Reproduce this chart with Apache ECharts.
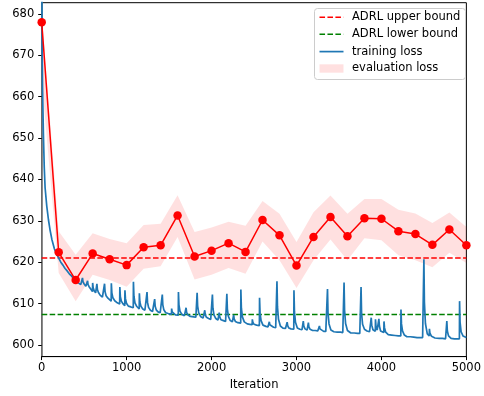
<!DOCTYPE html>
<html>
<head>
<meta charset="utf-8">
<script src="https://cdn.jsdelivr.net/npm/echarts@6/dist/echarts.min.js"></script>
<style>
html,body{margin:0;padding:0;background:#fff;}
#c{width:484px;height:396px;}
</style>
</head>
<body>
<div id="c"></div>
<script>
// ---- data ----
const xTicks = [0, 1000, 2000, 3000, 4000, 5000];
const yTicks = [600, 610, 620, 630, 640, 650, 660, 670, 680];
const evalIters = [0,200,400,600,800,1000,1200,1400,1600,1800,2000,2200,2400,2600,2800,3000,3200,3400,3600,3800,4000,4200,4400,4600,4800,5000];
const evalMean  = [678.0,622.4,615.7,622.1,620.7,619.3,623.6,624.1,631.3,621.4,622.8,624.6,622.5,630.2,626.5,619.2,626.1,630.9,626.3,630.6,630.5,627.5,626.8,624.2,627.9,624.1];
const evalLower = [664.0,617.4,610.6,617.0,615.7,614.1,618.4,619.0,626.1,615.8,617.0,618.6,617.2,625.0,620.5,613.8,620.5,625.5,620.5,625.8,625.3,621.7,620.5,618.8,622.3,619.8];
const evalUpper = [680.0,627.5,621.8,627.0,625.6,624.6,629.0,629.3,636.2,627.3,628.4,629.8,628.8,634.8,631.7,624.9,632.1,636.1,631.7,635.3,635.3,632.7,631.8,629.5,632.0,628.5];
const adrlUpper = 621.0;
const adrlLower = 607.4;
const trainLoss = [
[0,700],[5,672],[10,662],[20,651],[30,643],[40,638],[60,633.5],[80,630.2],[100,627.6],[120,625.5],[150,623.2],[175,622.0],[200,621.0],[225,620.0],[250,619.3],[275,618.5],[300,617.9],[325,617.2],[350,616.7],[375,616.1],[400,615.7],[420,615.2],[440,615.5],[460,614.6],
[478,614.4],[480,616.2],[486,615.3],[498,614.8],[520,614.2],
[538,613.8],[540,615.5],[546,614.6],[558,614.1],[575,613.6],
[598,612.9],[600,615.0],[606,613.8],[618,613.1],[635,612.6],
[648,612.3],[650,614.8],[656,613.4],[668,612.7],[690,612.0],[715,611.6],
[738,611.3],[740,614.8],[746,612.9],[758,611.9],[780,611.3],[800,610.9],
[818,610.6],[820,614.9],[826,612.6],[838,611.4],[860,610.7],[890,610.2],
[918,609.9],[920,614.0],[926,611.7],[938,610.6],[955,610.0],
[978,609.5],[980,613.2],[986,611.2],[998,610.1],[1020,609.4],[1050,609.2],
[1078,609.0],[1080,615.3],[1086,611.8],[1098,610.2],[1120,609.3],
[1148,608.7],[1150,612.5],[1156,610.4],[1168,609.4],[1190,608.7],[1215,608.4],
[1238,608.3],[1240,612.8],[1246,610.3],[1258,609.1],[1280,608.4],[1305,608.1],
[1328,607.9],[1330,611.1],[1336,609.4],[1348,608.5],[1370,608.0],[1395,607.8],
[1418,607.7],[1420,612.2],[1426,609.7],[1438,608.5],[1460,607.8],[1490,607.6],
[1528,607.4],[1530,608.8],[1536,608.0],[1550,607.6],[1575,607.3],[1595,607.2],
[1608,607.2],[1610,612.8],[1616,609.7],[1628,608.2],[1650,607.4],[1680,607.1],
[1698,607.0],[1700,609.0],[1706,607.9],[1720,607.3],[1750,606.9],[1790,606.8],[1815,606.7],
[1828,606.7],[1830,612.6],[1836,609.4],[1848,607.8],[1870,606.9],[1900,606.5],
[1918,606.4],[1920,608.4],[1926,607.3],[1940,606.7],[1965,606.4],[1990,606.2],
[2008,606.2],[2010,612.2],[2016,608.9],[2028,607.3],[2050,606.4],[2075,606.0],
[2088,605.9],[2090,607.8],[2096,606.8],[2110,606.1],[2140,605.9],[2165,605.7],
[2178,605.7],[2180,612.4],[2186,608.7],[2198,606.9],[2220,605.9],[2245,605.6],
[2258,605.5],[2260,607.3],[2266,606.3],[2280,605.7],[2310,605.4],[2330,605.3],
[2343,605.3],[2345,613.4],[2351,608.9],[2363,606.8],[2385,605.6],[2420,605.1],[2450,605.0],[2465,604.9],
[2478,604.9],[2480,606.2],[2486,605.5],[2500,605.0],[2530,604.8],[2550,604.7],
[2563,604.7],[2565,611.4],[2571,607.7],[2583,605.9],[2605,604.8],[2640,604.5],[2665,604.4],
[2678,604.4],[2680,605.6],[2686,604.9],[2700,604.5],[2730,604.3],[2755,604.2],
[2768,604.2],[2770,615.4],[2776,609.2],[2788,606.2],[2810,604.6],[2840,604.1],[2870,604.0],
[2888,604.0],[2890,605.5],[2896,604.7],[2910,604.1],[2935,603.9],[2955,603.8],
[2968,603.8],[2970,613.2],[2976,608.0],[2988,605.5],[3010,604.1],[3040,603.8],[3065,603.7],
[3078,603.7],[3080,605.8],[3086,604.6],[3100,603.9],[3125,603.6],
[3138,603.6],[3140,605.4],[3146,604.4],[3160,603.8],[3190,603.5],[3220,603.5],[3250,603.4],
[3268,603.4],[3270,604.6],[3276,603.9],[3290,603.5],[3320,603.3],[3345,603.3],
[3363,603.3],[3365,613.5],[3371,607.8],[3383,605.1],[3405,603.6],[3440,603.2],[3480,603.1],[3520,603.1],[3545,603.0],
[3558,603.0],[3560,615.1],[3566,608.4],[3578,605.2],[3600,603.5],[3640,602.9],[3680,602.9],[3720,602.8],[3745,602.8],
[3758,602.8],[3760,614.0],[3766,607.8],[3778,605.0],[3800,603.8],[3830,603.4],[3860,603.2],
[3878,603.1],[3880,606.6],[3886,604.8],[3900,603.7],
[3928,603.3],[3930,606.2],[3936,604.6],[3950,603.6],
[3968,603.2],[3970,606.3],[3976,604.6],[3990,603.4],
[4028,603.0],[4030,605.7],[4036,604.2],[4050,603.1],[4080,602.5],[4120,602.4],[4160,602.3],[4200,602.2],[4215,602.2],
[4228,602.2],[4230,608.6],[4236,605.1],[4248,603.4],[4270,602.4],[4300,602.0],[4340,602.0],[4380,601.9],[4420,601.8],[4460,601.8],[4485,601.8],
[4498,601.8],[4500,620.7],[4506,610.3],[4518,605.2],[4540,602.7],[4555,602.3],
[4563,602.2],[4565,603.9],[4571,602.9],[4590,602.1],[4630,601.7],[4680,601.6],[4720,601.6],[4755,601.5],
[4768,601.5],[4770,605.8],[4776,603.4],[4790,602.2],[4820,601.6],[4860,601.5],[4890,601.5],[4905,601.5],
[4918,601.5],[4920,610.6],[4926,605.5],[4938,603.2],[4960,602.2],[4980,601.9],[5000,601.8]
];
const legendLabels = ['ADRL upper bound', 'ADRL lower bound', 'training loss', 'evaluation loss'];

// ---- chart ----
const FONT = 'DejaVu Sans';
const FS = 11.5;
const xMin = xTicks[0], xMax = xTicks[xTicks.length - 1];
const yMin = 597.2, yMax = 682.7;

const chart = echarts.init(document.getElementById('c'), null, {renderer: 'canvas'});

const bandRows = evalIters.map((x, i) => [x, evalLower[i], evalUpper[i]]);
const meanPairs = evalIters.map((x, i) => [x, evalMean[i]]);

const legX = 319.5, legLineW = 24, legTextX = 352, legRows = [17.3, 34.3, 51.6, 68.5];

const graphics = [
  {type: 'rect', z: 100, shape: {x: 314.5, y: 8.5, width: 151, height: 71, r: 3},
   style: {fill: 'rgba(255,255,255,0.8)', stroke: '#cccccc', lineWidth: 1}},
  {type: 'line', z: 101, shape: {x1: legX, y1: legRows[0], x2: legX + legLineW, y2: legRows[0]},
   style: {stroke: '#ff0000', lineWidth: 1.5, lineDash: [5.55, 2.4]}},
  {type: 'line', z: 101, shape: {x1: legX, y1: legRows[1], x2: legX + legLineW, y2: legRows[1]},
   style: {stroke: '#008000', lineWidth: 1.5, lineDash: [5.55, 2.4]}},
  {type: 'line', z: 101, shape: {x1: legX, y1: legRows[2], x2: legX + legLineW, y2: legRows[2]},
   style: {stroke: '#1f77b4', lineWidth: 1.7}},
  {type: 'rect', z: 101, shape: {x: legX, y: legRows[3] - 4.2, width: legLineW, height: 8.4},
   style: {fill: 'rgba(255,0,0,0.12)'}}
];
legendLabels.forEach((t, i) => {
  graphics.push({type: 'text', z: 101, x: legTextX, y: legRows[i],
    style: {text: t, fill: '#000', font: FS + 'px "' + FONT + '"', textVerticalAlign: 'middle', textAlign: 'left'}});
});

const option = {
  animation: false,
  backgroundColor: '#ffffff',
  textStyle: {fontFamily: FONT},
  grid: {left: 41.7, right: 12.3, top: 2.7, bottom: 38.7, show: true, borderColor: '#000', borderWidth: 1, backgroundColor: 'transparent'},
  xAxis: {
    type: 'value', min: xMin, max: xMax, interval: 1000,
    name: 'Iteration', nameLocation: 'middle', nameGap: 20.5,
    nameTextStyle: {color: '#000', fontSize: FS, fontFamily: FONT},
    axisLine: {show: true, onZero: false, lineStyle: {color: '#000', width: 1}},
    axisTick: {show: true, length: 3.5, lineStyle: {color: '#000', width: 1}},
    axisLabel: {color: '#000', fontSize: FS, fontFamily: FONT, margin: 5.5, showMinLabel: true, showMaxLabel: true,
      formatter: v => String(v)},
    splitLine: {show: false}
  },
  yAxis: {
    type: 'value', min: yMin, max: yMax,
    axisLine: {show: true, onZero: false, lineStyle: {color: '#7a7a7a', width: 1.6}},
    axisTick: {show: true, length: 3.5, customValues: yTicks, lineStyle: {color: '#000', width: 1}},
    axisLabel: {color: '#000', fontSize: FS, fontFamily: FONT, margin: 7.5, customValues: yTicks,
      formatter: v => String(v)},
    splitLine: {show: false}
  },
  series: [
    {name: 'evaluation loss band', type: 'custom', data: bandRows, encode: {x: 0, y: [1, 2]}, silent: true, z: 1,
     renderItem: function (params, api) {
       if (params.dataIndex !== 0) return null;
       const pts = [];
       for (let i = 0; i < bandRows.length; i++) pts.push(api.coord([bandRows[i][0], bandRows[i][2]]));
       for (let i = bandRows.length - 1; i >= 0; i--) pts.push(api.coord([bandRows[i][0], bandRows[i][1]]));
       return {type: 'polygon', shape: {points: pts}, style: {fill: 'rgba(255,0,0,0.12)', stroke: null}};
     }},
    {name: 'ADRL upper bound', type: 'line', data: [[xMin, adrlUpper], [xMax, adrlUpper]], symbol: 'none',
     lineStyle: {color: '#ff0000', width: 1.5, type: [5.55, 2.4]}, z: 2},
    {name: 'ADRL lower bound', type: 'line', data: [[xMin, adrlLower], [xMax, adrlLower]], symbol: 'none',
     lineStyle: {color: '#008000', width: 1.5, type: [5.55, 2.4]}, z: 2},
    {name: 'training loss', type: 'line', data: trainLoss, symbol: 'none', showSymbol: false,
     lineStyle: {color: '#1f77b4', width: 1.7}, clip: true, z: 3},
    {name: 'evaluation loss', type: 'line', data: meanPairs, symbol: 'circle', symbolSize: 8.5, showSymbol: true,
     itemStyle: {color: '#ff0000'}, lineStyle: {color: '#ff0000', width: 1.5}, clip: false, z: 4}
  ],
  graphic: graphics
};
chart.setOption(option);
</script>
</body>
</html>
